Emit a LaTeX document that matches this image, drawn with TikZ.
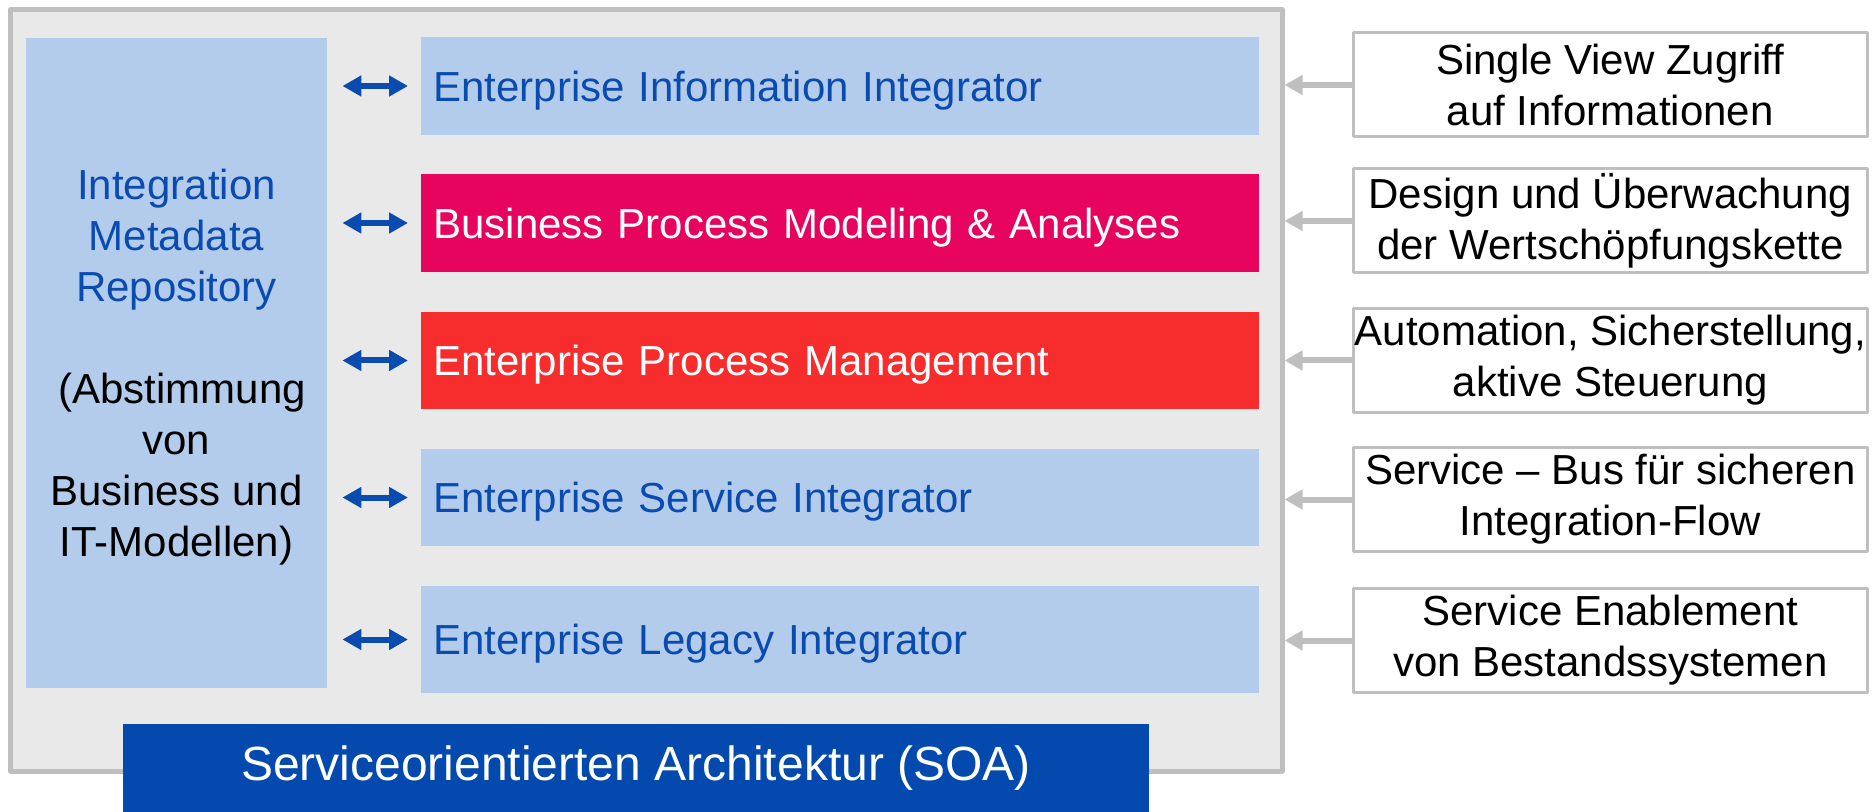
\documentclass[tikz,border=0pt]{standalone}
\usepackage{fontspec}
\setmainfont{Liberation Sans}
\usetikzlibrary{arrows.meta}
\definecolor{rowblue}{HTML}{B3CCEB}
\definecolor{txtblue}{HTML}{0A4BAF}
\definecolor{soablue}{HTML}{0349AE}
\definecolor{bpmpink}{HTML}{E7045F}
\definecolor{epmred}{HTML}{F72C2C}
\definecolor{framefill}{HTML}{E9E9E9}
\definecolor{framegray}{HTML}{BFBFBF}
\begin{document}
\begin{tikzpicture}[x=0.5pt,y=-0.5pt,line join=round,
	row/.style={rectangle,anchor=west,fill=rowblue,text=txtblue,inner xsep=6pt,inner ysep=0pt,
		text width=407pt,text depth=0pt,minimum height=49pt,align=left,font=\fontsize{21}{25.5}\selectfont},
	goal/.style={rectangle,draw=framegray,line width=1.5pt,fill=white,inner sep=0pt,
		minimum width=257pt,minimum height=52pt,align=center,font=\fontsize{21}{25.5}\selectfont},
	link/.style={{Triangle[length=9.5pt,width=10pt]}-{Triangle[length=9.5pt,width=10pt]},
		line width=3pt,txtblue,shorten <=7.5pt,shorten >=6.5pt},
	feed/.style={-{Triangle[length=9pt,width=9.5pt]},line width=3pt,framegray}]
	\useasboundingbox (0,0) rectangle (1872,812);
	\path(646.25,390.5)node[rectangle,draw=framegray,fill=framefill,line width=2.5pt,
	minimum width=635.75pt,minimum height=380.5pt](f){};
	\path(176.5,363)node[rectangle,fill=rowblue,inner sep=0pt,minimum width=150.5pt,
	minimum height=325pt,text depth=0pt,align=center,font=\fontsize{21}{25.5}\selectfont](m){\textcolor{txtblue}{Integration}\\
	\textcolor{txtblue}{Metadata}\\\textcolor{txtblue}{Repository}\\[25.5pt]
	~(Abstimmung\\von\\Business und\\IT-Modellen)};
	\path(421,86)node[row](eii){Enterprise Information Integrator}
	++(0,137)node[row,fill=bpmpink,text=white](bpm){Business Process Modeling \& Analyses}
	++(0,137.5)node[row,fill=epmred,text=white,minimum height=48.5pt](epm){Enterprise Process Management}
	++(0,137)node[row,minimum height=48.5pt](esi){Enterprise Service Integrator}
	++(0,142)node[row,minimum height=53.5pt](eli){Enterprise Legacy Integrator};
	\path(eii.east)++(350.5,-1)node[goal](g1){Single View Zugriff\\auf Informationen}
	(bpm.east)++(350.5,-2)node[goal](g2){Design und Überwachung\\der Wertschöpfungskette}
	(epm.east)++(350.5,0)node[goal](g3){Automation, Sicherstellung,\\aktive Steuerung}
	(esi.east)++(350.5,2)node[goal](g4){Service – Bus für sicheren\\Integration-Flow}
	(eli.east)++(350.5,1)node[goal](g5){Service Enablement\\von Bestandssystemen};
	\path(636,768)node[rectangle,fill=soablue,text=white,minimum width=513pt,minimum height=44pt,
	font=\fontsize{24}{28}\selectfont](s){Serviceorientierten Architektur (SOA)};
	\draw[link](m.east |- eii.west)--(eii.west);
	\draw[link](m.east |- bpm.west)--(bpm.west);
	\draw[link](m.east |- epm.west)--(epm.west);
	\draw[link](m.east |- esi.west)--(esi.west);
	\draw[link](m.east |- eli.west)--(eli.west);
	\draw[feed](g1.west)--(f.east |- g1.west);
	\draw[feed](g2.west)--(f.east |- g2.west);
	\draw[feed](g3.west)--(f.east |- g3.west);
	\draw[feed](g4.west)--(f.east |- g4.west);
	\draw[feed](g5.west)--(f.east |- g5.west);
\end{tikzpicture}
\end{document}
